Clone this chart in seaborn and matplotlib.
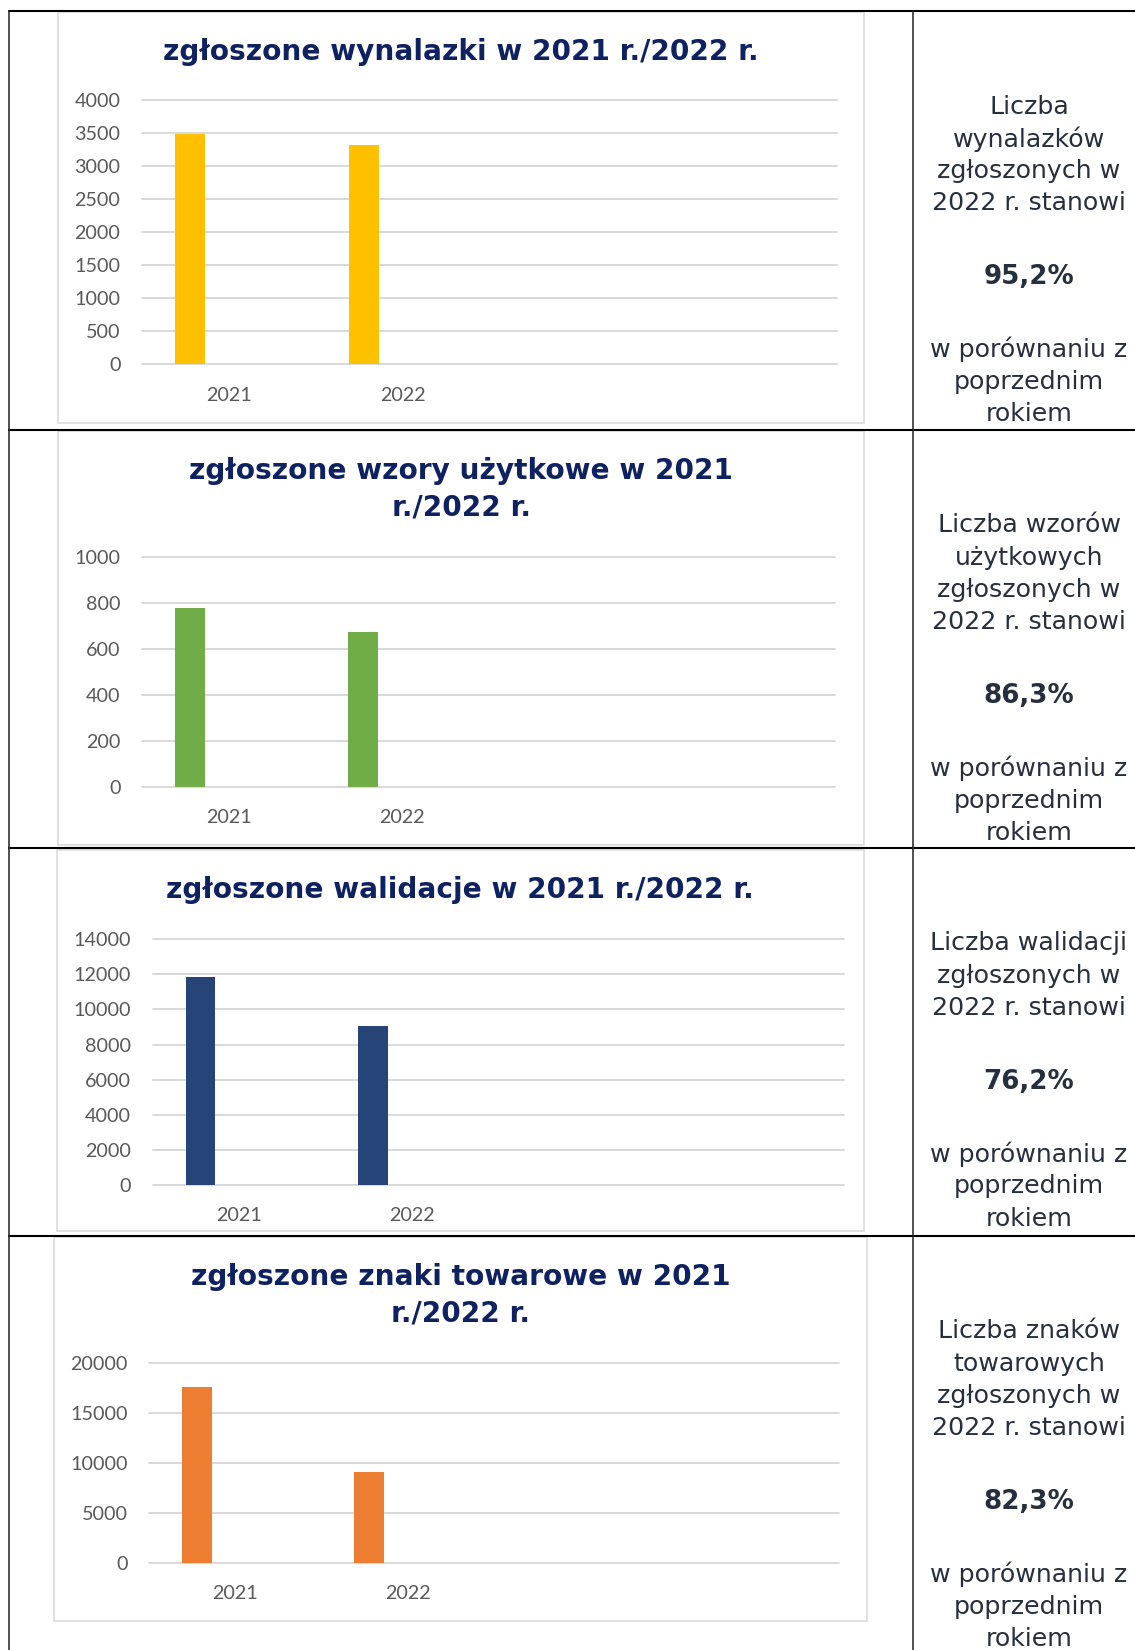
import numpy as np
import pandas as pd
import matplotlib
matplotlib.use("Agg")
import matplotlib.pyplot as plt
import seaborn as sns
from matplotlib.patches import Rectangle
from matplotlib.lines import Line2D

# oś kategorii jak w Excelu: dwa lata + dwa puste miejsca
years = ["2021", "2022"]
slots = ["2021", "2022", " ", "  "]

inventions = [3490, 3325]
utility_models = [777, 671]
validations = [11870, 9045]
trademarks = [17550, 9020]

titles = [["zgłoszone wynalazki w 2021 r./2022 r."],
          ["zgłoszone wzory użytkowe w 2021", "r./2022 r."],
          ["zgłoszone walidacje w 2021 r./2022 r."],
          ["zgłoszone znaki towarowe w 2021", "r./2022 r."]]
bar_colors = ["#FFC000", "#70AD47", "#264478", "#ED7D31"]
y_max = [4000, 1000, 14000, 20000]
y_step = [500, 200, 2000, 5000]

side_top = [["Liczba", "wynalazków", "zgłoszonych w", "2022 r. stanowi"],
            ["Liczba wzorów", "użytkowych", "zgłoszonych w", "2022 r. stanowi"],
            ["Liczba walidacji", "zgłoszonych w", "2022 r. stanowi"],
            ["Liczba znaków", "towarowych", "zgłoszonych w", "2022 r. stanowi"]]
side_pct = ["95,2%", "86,3%", "76,2%", "82,3%"]
side_bottom = ["w porównaniu z", "poprzednim", "rokiem"]

series = [inventions, utility_models, validations, trademarks]

# układ strony w pikselach
W, H = 1135, 1650
plot_boxes = [(142, 100, 837, 364.3), (142, 556.7, 835, 786.7),
              (152.7, 939.3, 843.6, 1185), (149.3, 1362.7, 838.5, 1562.5)]
frames = [(58, 12, 864, 423), (58, 431, 864, 845),
          (56.5, 850, 864, 1231), (54, 1237, 867, 1621)]
title_y = [[51.7], [471, 508], [890], [1277, 1314]]
row_lines = [11, 430, 848, 1236]


def fx(x):
    return x / W


def fy(y):
    return 1 - y / H


sns.set_theme(style="white")
plt.rcParams["font.family"] = ["Lato", "DejaVu Sans"]

fig = plt.figure(figsize=(W / 100, H / 100), dpi=100)

# linie tabeli
for y in row_lines:
    fig.add_artist(Line2D([fx(9), fx(W)], [fy(y), fy(y)], transform=fig.transFigure,
                          color="black", lw=1.5))
for x in [9, 913]:
    fig.add_artist(Line2D([fx(x), fx(x)], [fy(11), fy(H)], transform=fig.transFigure,
                          color="#222222", lw=1.1))

for i, vals in enumerate(series):
    fx0, fy0, fx1, fy1 = frames[i]
    fig.add_artist(Rectangle((fx(fx0), fy(fy1)), (fx1 - fx0) / W, (fy1 - fy0) / H,
                             transform=fig.transFigure, fill=False,
                             edgecolor="#d9d9d9", lw=1.1))

    x0, y0, x1, y1 = plot_boxes[i]
    ax = fig.add_axes([fx(x0), fy(y1), (x1 - x0) / W, (y1 - y0) / H])
    df = pd.DataFrame({"rok": years, "liczba": vals, "seria": "s1"})
    sns.barplot(data=df, x="rok", y="liczba", hue="seria", hue_order=["s1", "s2"],
                order=slots, palette={"s1": bar_colors[i], "s2": bar_colors[i]},
                dodge=True, width=0.892, gap=0.612, saturation=1, linewidth=0,
                errorbar=None, legend=False, ax=ax)
    ax.set_xlim(-0.5, 3.5)
    ax.set_ylim(0, y_max[i])
    ax.set_yticks(np.arange(0, y_max[i] + 1, y_step[i]))
    ax.set_xlabel("")
    ax.set_ylabel("")
    ax.yaxis.grid(True, color="#d9d9d9", lw=1.4)
    ax.set_axisbelow(True)
    for gl in ax.get_ygridlines():
        gl.set_clip_on(False)
    sns.despine(ax=ax, left=True, bottom=True)
    ax.tick_params(axis="both", length=0, labelsize=14.2, labelcolor="#595959")
    ax.tick_params(axis="x", pad=16)
    ax.tick_params(axis="y", pad=15.5)
    ax.patch.set_alpha(0)

    cx = (fx0 + fx1) / 2
    for line, ty in zip(titles[i], title_y[i]):
        fig.text(fx(cx), fy(ty), line, ha="center", va="center", fontsize=20.2,
                 fontweight="bold", color="#0e2160", family="DejaVu Sans")

    # tekst w prawej kolumnie
    top = row_lines[i]
    y = top + 95.5
    for line in side_top[i]:
        fig.text(fx(1029), fy(y), line, ha="center", va="center", fontsize=18.2,
                 color="#262f3d", family="DejaVu Sans")
        y += 32.3
    y += 74 - 32.3
    fig.text(fx(1029), fy(y), side_pct[i], ha="center", va="center", fontsize=18.8,
             fontweight="bold", color="#262f3d", family="DejaVu Sans")
    y += 72
    for line in side_bottom:
        fig.text(fx(1029), fy(y), line, ha="center", va="center", fontsize=18.2,
                 color="#262f3d", family="DejaVu Sans")
        y += 32.3

fig.savefig("out.png", dpi=100, facecolor="white")
